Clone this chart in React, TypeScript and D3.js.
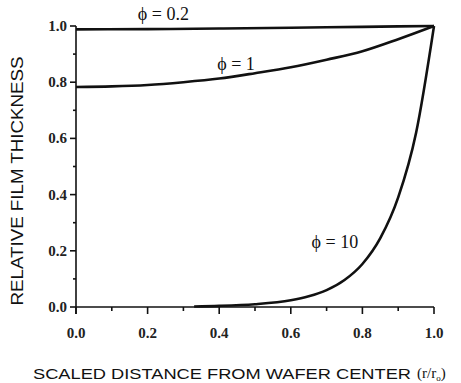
import React, { useEffect, useRef } from "react";
import * as d3 from "d3";

// values: relative film thickness vs r/r0
const rPhi02 = [0, 0.2, 0.4, 0.6, 0.8, 1.0];
const tPhi02 = [0.988, 0.989, 0.991, 0.994, 0.997, 1.0];

const rPhi1 = [0, 0.1, 0.2, 0.3, 0.4, 0.5, 0.6, 0.7, 0.8, 0.9, 1.0];
const tPhi1 = [0.783, 0.785, 0.79, 0.8, 0.813, 0.832, 0.853, 0.88, 0.91, 0.953, 1.0];

const rPhi10 = [0.33, 0.4, 0.5, 0.6, 0.65, 0.7, 0.75, 0.8, 0.85, 0.9, 0.95, 1.0];
const tPhi10 = [0.002, 0.004, 0.01, 0.024, 0.038, 0.06, 0.096, 0.153, 0.245, 0.39, 0.62, 1.0];

const xTicks = [0, 0.2, 0.4, 0.6, 0.8, 1.0];
const yTicks = [0, 0.2, 0.4, 0.6, 0.8, 1.0];
const minorTicks = [0.1, 0.3, 0.5, 0.7, 0.9];

const curveLabels = [
  { text: "ϕ = 0.2", r: 0.244, t: 1.021 },
  { text: "ϕ = 1", r: 0.447, t: 0.843 },
  { text: "ϕ = 10", r: 0.723, t: 0.21 },
];

export default function App() {
  const svgRef = useRef<SVGSVGElement>(null);

  useEffect(() => {
    const width = 461;
    const height = 383;
    const svg = d3.select(svgRef.current);
    svg.selectAll("*").remove();
    svg.attr("width", width).attr("height", height);

    const x = d3.scaleLinear().domain([0, 1]).range([76, 434]);
    const y = d3.scaleLinear().domain([0, 1]).range([307, 26]);

    const serif = "'Liberation Serif', 'Times New Roman', serif";
    const sans = "'Liberation Sans', Arial, sans-serif";

    const ax = svg.append("g").attr("stroke", "#111").attr("stroke-width", 1.6);
    // axis lines
    ax.append("line").attr("x1", x(0)).attr("x2", x(1)).attr("y1", y(0)).attr("y2", y(0));
    ax.append("line").attr("x1", x(0)).attr("x2", x(0)).attr("y1", y(0) + 7).attr("y2", y(1));

    // x ticks
    xTicks.forEach(v => {
      ax.append("line").attr("x1", x(v)).attr("x2", x(v)).attr("y1", y(0)).attr("y2", y(0) + 7);
    });
    minorTicks.forEach(v => {
      ax.append("line").attr("x1", x(v)).attr("x2", x(v)).attr("y1", y(0)).attr("y2", y(0) + 4);
    });
    // y ticks
    yTicks.forEach(v => {
      ax.append("line").attr("x1", x(0) - 6).attr("x2", x(0)).attr("y1", y(v)).attr("y2", y(v));
    });
    minorTicks.forEach(v => {
      ax.append("line").attr("x1", x(0) - 3).attr("x2", x(0)).attr("y1", y(v)).attr("y2", y(v));
    });

    svg
      .append("g")
      .selectAll("text")
      .data(xTicks)
      .enter()
      .append("text")
      .attr("x", d => x(d))
      .attr("y", 338)
      .attr("text-anchor", "middle")
      .style("font-family", serif)
      .style("font-weight", "bold")
      .style("font-size", "15px")
      .attr("fill", "#222")
      .text(d => d.toFixed(1));

    svg
      .append("g")
      .selectAll("text")
      .data(yTicks)
      .enter()
      .append("text")
      .attr("x", 67)
      .attr("y", d => y(d) + 5)
      .attr("text-anchor", "end")
      .style("font-family", serif)
      .style("font-weight", "bold")
      .style("font-size", "15px")
      .attr("fill", "#222")
      .text(d => d.toFixed(1));

    // curves
    const line = d3
      .line<[number, number]>()
      .x(d => x(d[0]))
      .y(d => y(d[1]))
      .curve(d3.curveMonotoneX);

    const series: [number[], number[]][] = [
      [rPhi02, tPhi02],
      [rPhi1, tPhi1],
      [rPhi10, tPhi10],
    ];
    series.forEach(([rs, ts]) => {
      svg
        .append("path")
        .datum(rs.map((r, i) => [r, ts[i]] as [number, number]))
        .attr("d", line)
        .attr("fill", "none")
        .attr("stroke", "#111")
        .attr("stroke-width", 2.6)
        .attr("stroke-linejoin", "round");
    });

    svg
      .append("g")
      .selectAll("text")
      .data(curveLabels)
      .enter()
      .append("text")
      .attr("x", d => x(d.r))
      .attr("y", d => y(d.t))
      .attr("text-anchor", "middle")
      .style("font-family", serif)
      .style("font-size", "18px")
      .attr("fill", "#111")
      .text(d => d.text);

    // axis titles
    svg
      .append("text")
      .attr("transform", "translate(23,181) rotate(-90)")
      .attr("text-anchor", "middle")
      .attr("textLength", 249)
      .attr("lengthAdjust", "spacingAndGlyphs")
      .style("font-family", sans)
      .style("font-size", "16px")
      .attr("fill", "#111")
      .text("RELATIVE FILM THICKNESS");

    svg
      .append("text")
      .attr("x", 33)
      .attr("y", 379)
      .attr("textLength", 378)
      .attr("lengthAdjust", "spacingAndGlyphs")
      .style("font-family", sans)
      .style("font-size", "14.5px")
      .attr("fill", "#111")
      .text("SCALED DISTANCE FROM WAFER CENTER");

    const unit = svg
      .append("text")
      .attr("x", 417)
      .attr("y", 378)
      .style("font-family", serif)
      .style("font-size", "15px")
      .attr("fill", "#111");
    unit.append("tspan").text("(r/r");
    unit.append("tspan").attr("dy", 3).style("font-size", "9px").text("o");
    unit.append("tspan").attr("dy", -3).text(")");
  }, []);

  return (
    <div style={{ position: "absolute", left: 0, top: 0, background: "#fff" }}>
      <svg ref={svgRef} style={{ display: "block" }} />
    </div>
  );
}
